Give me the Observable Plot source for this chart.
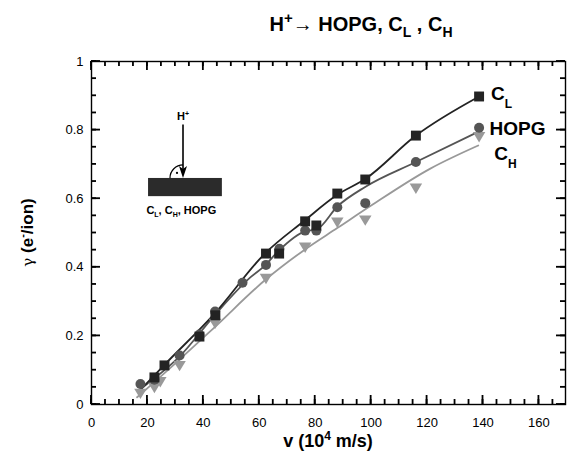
<!DOCTYPE html>
<html><head><meta charset="utf-8">
<script src="https://cdn.jsdelivr.net/npm/d3@7"></script>
<script src="https://cdn.jsdelivr.net/npm/@observablehq/plot@0.6"></script>
<style>body{margin:0;background:#fff;font-family:"Liberation Sans",Arial,sans-serif}</style>
</head><body><div id="chart"></div>
<script>
// Measured points
const vCL = [22.5, 26.1, 38.6, 44.3, 62.4, 67.1, 76.4, 80.4, 87.9, 97.9, 116, 138.6];
const gCL = [0.079, 0.114, 0.198, 0.26, 0.44, 0.44, 0.534, 0.522, 0.615, 0.656, 0.784, 0.898];
const vHOPG = [17.5, 22.5, 31.5, 38.6, 44.2, 54, 62.4, 67.2, 76.4, 80.4, 87.9, 97.9, 116, 138.6];
const gHOPG = [0.060, 0.072, 0.143, 0.204, 0.271, 0.355, 0.407, 0.454, 0.507, 0.507, 0.575, 0.587, 0.707, 0.807];
const vCH = [17.5, 22.5, 24.6, 31.5, 44.2, 62.4, 76.4, 87.9, 97.9, 116, 138.6];
const gCH = [0.031, 0.048, 0.065, 0.112, 0.235, 0.366, 0.457, 0.53, 0.536, 0.629, 0.779];
// Fit curves
const fitVCL = [18, 26, 44, 62, 76, 88, 98, 116, 138.6];
const fitGCL = [0.047, 0.115, 0.265, 0.44, 0.535, 0.612, 0.658, 0.784, 0.898];
const fitVHOPG = [17.5, 31.5, 44, 57, 62, 67, 76.4, 80.4, 88, 98, 116, 138];
const fitGHOPG = [0.045, 0.14, 0.26, 0.372, 0.405, 0.449, 0.505, 0.51, 0.578, 0.635, 0.707, 0.794];
const fitVCH = [16.3, 30, 44, 62.4, 76, 88, 100, 121, 138.3];
const fitGCH = [0.021, 0.12, 0.225, 0.365, 0.45, 0.515, 0.58, 0.687, 0.755];
// Ticks
const xMajor = [0, 20, 40, 60, 80, 100, 120, 140, 160];
const yMajor = [0, 0.2, 0.4, 0.6, 0.8, 1];
const xMinor = d3.range(0, 170, 5);
const yMinor = d3.range(0, 1.001, 0.05);
// Inset anchor (data coords)
const insetArrowX = [32.9];
const insetRect = [{x1: 20.4, x2: 46.8, y1: 0.606, y2: 0.659}];

const xMax = 169.5;
const cDark = "#232323", cMid = "#555555", cLight = "#999999";
const pts = (v, g) => v.map((x, i) => ({x, y: g[i]}));

const triDown = {draw(ctx, size) {
  const r = Math.sqrt(size / Math.PI);
  const w = r * 1.2, h = r * 1.0;
  ctx.moveTo(-w, -h); ctx.lineTo(w, -h); ctx.lineTo(0, h); ctx.closePath();
}};

const plot = Plot.plot({
  width: 571, height: 460,
  marginLeft: 91, marginRight: 6, marginTop: 61, marginBottom: 56,
  style: {fontFamily: '"Liberation Sans", Arial, sans-serif', fontSize: "13px", color: "#000", background: "#fff"},
  x: {domain: [0, xMax]},
  y: {domain: [0, 1]},
  marks: [
    Plot.frame({stroke: "#000", strokeWidth: 1.4}),
    Plot.axisX({anchor: "bottom", ticks: xMajor, tickSize: 0, tickPadding: 13, label: null, fontSize: 13}),
    Plot.axisY({anchor: "left", ticks: yMajor, tickSize: 0, tickPadding: 8, label: null, fontSize: 13, tickFormat: d => d === 0 || d === 1 ? String(d) : d.toFixed(1)}),
    Plot.line(pts(fitVCH, fitGCH), {x: "x", y: "y", stroke: cLight, strokeWidth: 1.8, curve: "monotone-x"}),
    Plot.line(pts(fitVHOPG, fitGHOPG), {x: "x", y: "y", stroke: cMid, strokeWidth: 1.8, curve: "monotone-x"}),
    Plot.line(pts(fitVCL, fitGCL), {x: "x", y: "y", stroke: cDark, strokeWidth: 1.8, curve: "monotone-x"}),
    Plot.dot(pts(vCH, gCH), {x: "x", y: "y", r: 5.2, symbol: triDown, fill: cLight, stroke: "none"}),
    Plot.dot(pts(vHOPG, gHOPG), {x: "x", y: "y", r: 5, symbol: "circle", fill: cMid, stroke: "none"}),
    Plot.dot(pts(vCL, gCL), {x: "x", y: "y", r: 5.6, symbol: "square", fill: cDark, stroke: "none"}),
    Plot.rect(insetRect, {x1: "x1", x2: "x2", y1: "y1", y2: "y2", fill: "#2b2b2b"})
  ]
});
document.getElementById("chart").appendChild(plot);

const X = plot.scale("x"), Y = plot.scale("y");
const svg = d3.select(plot);
const ff = '"Liberation Sans", Arial, sans-serif';

// Inward ticks on all four sides
const fLeft = X.apply(0), fRight = X.apply(xMax), fBottom = Y.apply(0), fTop = Y.apply(1);
const tg = svg.append("g").attr("fill", "#000").attr("stroke", "none");
for (const [arr, len] of [[xMinor, 5], [xMajor, 9]]) {
  for (const v of arr) {
    const px = X.apply(v) - 0.9;
    tg.append("rect").attr("x", px).attr("width", 1.8).attr("y", fBottom - len).attr("height", len);
    tg.append("rect").attr("x", px).attr("width", 1.8).attr("y", fTop).attr("height", len);
  }
}
for (const [arr, len] of [[yMinor, 5], [yMajor, 9]]) {
  for (const v of arr) {
    const py = Y.apply(v) - 0.9;
    tg.append("rect").attr("y", py).attr("height", 1.8).attr("x", fLeft).attr("width", len);
    tg.append("rect").attr("y", py).attr("height", 1.8).attr("x", fRight - len).attr("width", len);
  }
}

// Title
const t = svg.append("text").attr("x", 361).attr("y", 31).attr("text-anchor", "middle")
  .attr("font-family", ff).attr("font-weight", "bold").attr("font-size", 20);
t.append("tspan").text("H");
t.append("tspan").attr("dy", -8).attr("font-size", 15).text("+");
t.append("tspan").attr("dy", 8).attr("font-weight", "normal").text("\u2192 ");
t.append("tspan").text("HOPG, C");
t.append("tspan").attr("dy", 6).attr("font-size", 14).text("L");
t.append("tspan").attr("dy", -6).text(" , C");
t.append("tspan").attr("dy", 6).attr("font-size", 14).text("H");

// X label
const xl = svg.append("text").attr("x", 328).attr("y", 447).attr("text-anchor", "middle")
  .attr("font-family", ff).attr("font-weight", "bold").attr("font-size", 18);
xl.append("tspan").text("v (10");
xl.append("tspan").attr("dy", -7).attr("font-size", 12).text("4");
xl.append("tspan").attr("dy", 7).text(" m/s)");

// Y label
const yl = svg.append("text").attr("transform", `translate(33,${Y.apply(0.5)}) rotate(-90)`)
  .attr("text-anchor", "middle").attr("font-family", ff).attr("font-size", 17);
yl.append("tspan").attr("font-family", '"DejaVu Serif", serif').attr("font-size", 15).text("\u03b3 ");
yl.append("tspan").attr("font-weight", "bold").text("(e");
yl.append("tspan").attr("font-weight", "bold").attr("dy", -7).attr("font-size", 11).text("-");
yl.append("tspan").attr("font-weight", "bold").attr("dy", 7).text("/ion)");

// Series labels
function seriesLabel(xv, yv, main, sub, size) {
  const s = svg.append("text").attr("x", X.apply(xv)).attr("y", Y.apply(yv)).attr("text-anchor", "start")
    .attr("font-family", ff).attr("font-weight", "bold").attr("font-size", size);
  s.append("tspan").text(main);
  if (sub) s.append("tspan").attr("dy", 8).attr("font-size", 12).text(sub);
}
seriesLabel(143, 0.886, "C", "L", 19);
seriesLabel(142.5, 0.784, "HOPG", null, 19);
seriesLabel(144.2, 0.711, "C", "H", 19);

// Inset arrow
const ax = X.apply(insetArrowX[0]);
const yTop = Y.apply(0.815), yBot = Y.apply(insetRect[0].y2);
svg.append("line").attr("x1", ax).attr("x2", ax).attr("y1", yTop).attr("y2", yBot - 6)
  .attr("stroke", "#000").attr("stroke-width", 1.6);
svg.append("path").attr("d", `M${ax - 4},${yBot - 12} L${ax},${yBot} L${ax + 4},${yBot - 12} L${ax},${yBot - 9} Z`).attr("fill", "#000");
svg.append("path").attr("d", `M${ax - 13},${yBot} A13,13 0 0 1 ${ax},${yBot - 13}`)
  .attr("fill", "none").attr("stroke", "#000").attr("stroke-width", 1.2);
svg.append("circle").attr("cx", ax - 6).attr("cy", yBot - 5).attr("r", 1.1).attr("fill", "#000");
const hp = svg.append("text").attr("x", ax).attr("y", yTop - 4).attr("text-anchor", "middle")
  .attr("font-family", ff).attr("font-weight", "bold").attr("font-size", 11);
hp.append("tspan").text("H");
hp.append("tspan").attr("dy", -4).attr("font-size", 7).text("+");
const il = svg.append("text").attr("x", X.apply(32.3)).attr("y", Y.apply(0.553)).attr("text-anchor", "middle")
  .attr("font-family", ff).attr("font-weight", "bold").attr("font-size", 11);
il.append("tspan").text("C");
il.append("tspan").attr("dy", 3).attr("font-size", 7).text("L");
il.append("tspan").attr("dy", -3).text(", C");
il.append("tspan").attr("dy", 3).attr("font-size", 7).text("H");
il.append("tspan").attr("dy", -3).text(", HOPG");
</script></body></html>
